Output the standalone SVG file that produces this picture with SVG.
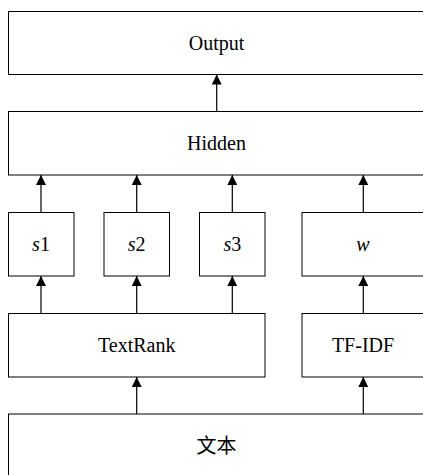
<svg xmlns="http://www.w3.org/2000/svg" width="423" height="475" viewBox="0 0 423 475">
  <style>
    .box { fill: #ffffff; stroke: #000000; stroke-width: 1; }
    text { font-family: "Liberation Serif", "DejaVu Serif", "Noto Sans CJK SC", serif; font-size: 20px; fill: #000000; text-anchor: middle; }
    .it { font-style: italic; }
    .edge { stroke: #000000; stroke-width: 1.2; fill: none; marker-end: url(#arrow); }
  </style>
  <defs>
    <marker id="arrow" viewBox="0 0 10 10" refX="10" refY="5" markerWidth="10" markerHeight="10" markerUnits="userSpaceOnUse" orient="auto">
      <path d="M0,0 L10,5 L0,10 Z" fill="#000000"/>
    </marker>
  </defs>

  <rect width="423" height="475" fill="#ffffff"/>

  <g id="output">
    <rect class="box" x="8.5" y="11.5" width="418" height="63"/>
    <text x="216.5" y="49.5">Output</text>
  </g>
  <g id="hidden">
    <rect class="box" x="8.5" y="111.5" width="418" height="63.5"/>
    <text x="216.5" y="149.5">Hidden</text>
  </g>
  <g id="s1">
    <rect class="box" x="8.5" y="212.5" width="65.5" height="63.5"/>
    <text x="41" y="250.5"><tspan class="it">s</tspan>1</text>
  </g>
  <g id="s2">
    <rect class="box" x="104" y="212.5" width="65.5" height="63.5"/>
    <text x="136.7" y="250.5"><tspan class="it">s</tspan>2</text>
  </g>
  <g id="s3">
    <rect class="box" x="199.5" y="212.5" width="65.5" height="63.5"/>
    <text x="232.3" y="250.5"><tspan class="it">s</tspan>3</text>
  </g>
  <g id="w">
    <rect class="box" x="302" y="212.5" width="124" height="63.5"/>
    <text class="it" x="363" y="250.5">w</text>
  </g>
  <g id="textrank">
    <rect class="box" x="8.5" y="313.5" width="256.5" height="63.5"/>
    <text x="136.7" y="351.5">TextRank</text>
  </g>
  <g id="tfidf">
    <rect class="box" x="302" y="313.5" width="124" height="63.5"/>
    <text x="363" y="351.5">TF-IDF</text>
  </g>
  <g id="text">
    <rect class="box" x="8.5" y="414" width="418" height="70"/>
    <text x="216.5" y="453">文本</text>
  </g>

  <g id="connectors">
    <line class="edge" x1="216.7" y1="111.5" x2="216.7" y2="74.5"/>
    <line class="edge" x1="41" y1="212.5" x2="41" y2="175"/>
    <line class="edge" x1="136.7" y1="212.5" x2="136.7" y2="175"/>
    <line class="edge" x1="232.3" y1="212.5" x2="232.3" y2="175"/>
    <line class="edge" x1="363.3" y1="212.5" x2="363.3" y2="175"/>
    <line class="edge" x1="41" y1="313.5" x2="41" y2="276"/>
    <line class="edge" x1="136.7" y1="313.5" x2="136.7" y2="276"/>
    <line class="edge" x1="232.3" y1="313.5" x2="232.3" y2="276"/>
    <line class="edge" x1="363.3" y1="313.5" x2="363.3" y2="276"/>
    <line class="edge" x1="136.7" y1="414" x2="136.7" y2="377"/>
    <line class="edge" x1="363.3" y1="414" x2="363.3" y2="377"/>
  </g>
</svg>
